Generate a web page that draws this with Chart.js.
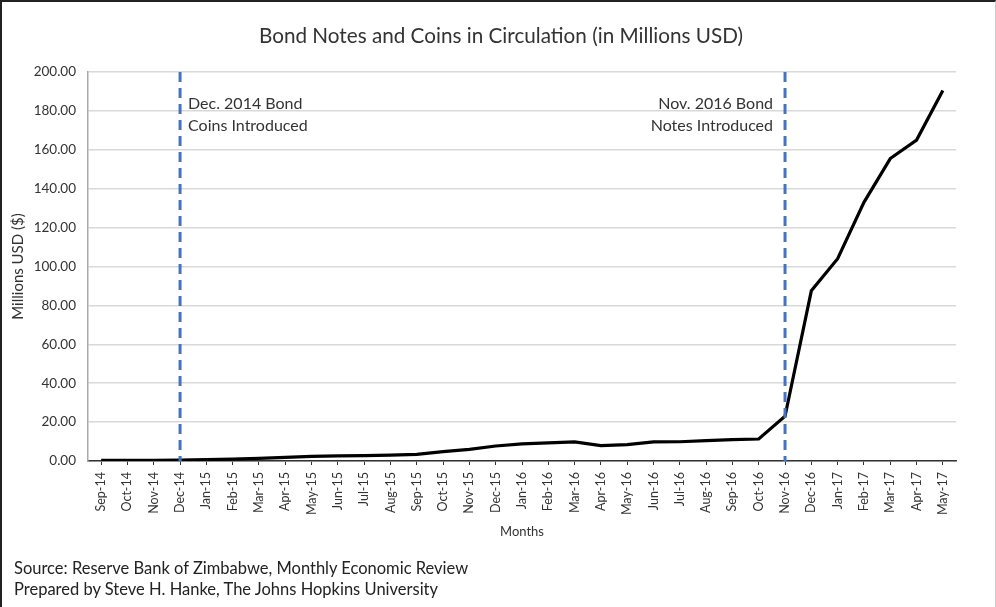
<!DOCTYPE html>
<html>
<head>
<meta charset="utf-8">
<script src="https://cdn.jsdelivr.net/npm/chart.js@4.4.1/dist/chart.umd.min.js"></script>
<style>
  html, body { margin: 0; padding: 0; background: #fff; }
  #wrap { position: relative; width: 996px; height: 607px; box-sizing: border-box;
          border-left: 2px solid #222; border-top: 2px solid #222; border-right: 1px solid #ccc; overflow: hidden; }
  #chart { position: absolute; left: 0; top: 0; }
  .foot { position: absolute; left: 12px; font-family: Lato, "Open Sans", sans-serif; font-size: 16.5px; color: #222; white-space: nowrap; }
  #title { position: absolute; left: 0; width: 996px; top: 20px; text-align: center; padding-left: 2px; box-sizing: border-box;
           font-family: Lato, "Open Sans", sans-serif; font-size: 20.7px; color: #333; line-height: 26px; }
</style>
</head>
<body>
<div id="wrap">
  <canvas id="chart" width="993" height="605"></canvas>
  <div id="title">Bond Notes and Coins in Circulation (in Millions USD)</div>
  <div class="foot" style="top:556px;">Source: Reserve Bank of Zimbabwe, Monthly Economic Review</div>
  <div class="foot" style="top:577px;">Prepared by Steve H. Hanke, The Johns Hopkins University</div>
</div>
<script>
const months = ["Sep-14","Oct-14","Nov-14","Dec-14","Jan-15","Feb-15","Mar-15","Apr-15","May-15","Jun-15","Jul-15","Aug-15","Sep-15","Oct-15","Nov-15","Dec-15","Jan-16","Feb-16","Mar-16","Apr-16","May-16","Jun-16","Jul-16","Aug-16","Sep-16","Oct-16","Nov-16","Dec-16","Jan-17","Feb-17","Mar-17","Apr-17","May-17"];
const circulation = [0.3,0.3,0.3,0.4,0.7,1.0,1.4,1.9,2.4,2.6,2.8,3.0,3.4,4.8,6.0,7.7,8.8,9.3,9.8,7.9,8.4,9.8,9.9,10.5,11.0,11.3,23.0,87.5,104,133,155.5,165,190.5];
const yTicks = [0,20,40,60,80,100,120,140,160,180,200];
const markers = [
  { month: "Dec-14", lines: ["Dec. 2014 Bond", "Coins Introduced"], side: "right" },
  { month: "Nov-16", lines: ["Nov. 2016 Bond", "Notes Introduced"], side: "left" }
];

const FONT = 'Lato, "Open Sans", sans-serif';

const markerPlugin = {
  id: 'markers',
  afterDatasetsDraw(chart) {
    const { ctx, chartArea, scales } = chart;
    ctx.save();
    markers.forEach(m => {
      const x = scales.x.getPixelForValue(months.indexOf(m.month));
      ctx.strokeStyle = '#4472C4';
      ctx.lineWidth = 3;
      ctx.setLineDash([10, 6]);
      ctx.beginPath();
      ctx.moveTo(x, chartArea.top);
      ctx.lineTo(x, chartArea.bottom);
      ctx.stroke();
      ctx.setLineDash([]);
      ctx.fillStyle = '#333';
      ctx.font = '16px ' + FONT;
      ctx.textBaseline = 'middle';
      ctx.textAlign = m.side === 'right' ? 'left' : 'right';
      const tx = m.side === 'right' ? x + 8 : x - 12;
      const y0 = scales.y.getPixelForValue(183.5);
      m.lines.forEach((t, i) => ctx.fillText(t, tx, y0 + i * 22));
    });
    ctx.restore();
  }
};

new Chart(document.getElementById('chart'), {
  type: 'line',
  data: {
    labels: months,
    datasets: [{
      data: circulation,
      borderColor: '#000',
      borderWidth: 3.2,
      pointRadius: 0,
      tension: 0,
      fill: false
    }]
  },
  options: {
    responsive: false,
    animation: false,
    layout: { padding: { left: 5, right: 39, top: 70, bottom: 63 } },
    plugins: {
      legend: { display: false },
      tooltip: { enabled: false },
      title: { display: false }
    },
    scales: {
      x: {
        type: 'category',
        offset: true,
        grid: { display: true, drawOnChartArea: false, drawTicks: true, tickLength: 4, color: '#333', offset: false },
        border: { display: true, color: '#333', width: 1.5 },
        ticks: { color: '#333', font: { family: FONT, size: 12.5 }, maxRotation: 90, minRotation: 90, autoSkip: false, padding: 7 },
        title: { display: true, text: 'Months', color: '#333', font: { family: FONT, size: 13 }, padding: { top: 4, bottom: 4 } },
        afterFit(scale) { scale.height = 83; }
      },
      y: {
        min: 0, max: 200,
        afterBuildTicks(scale) { scale.ticks = yTicks.map(v => ({ value: v })); },
        grid: { color: '#d9d9d9', drawTicks: false, lineWidth: 1.5 },
        border: { display: true, color: '#aaa', width: 1.5 },
        ticks: { color: '#333', font: { family: FONT, size: 13.5 }, padding: 12, callback: v => Number(v).toFixed(2) },
        title: { display: true, text: 'Millions USD ($)', color: '#333', font: { family: FONT, size: 15 }, padding: { top: 2, bottom: 2 } },
        afterFit(scale) { scale.width = 81; }
      }
    }
  },
  plugins: [markerPlugin]
});
</script>
</body>
</html>
